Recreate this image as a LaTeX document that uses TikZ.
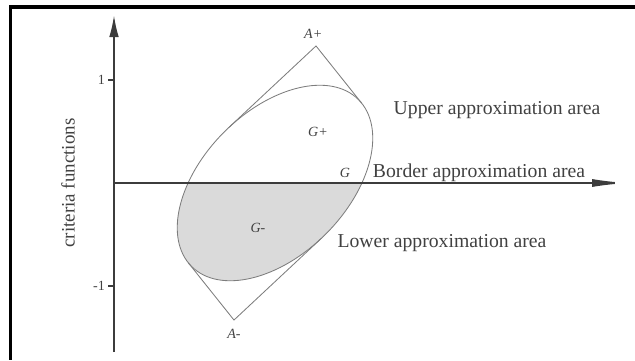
\documentclass[tikz,border=0pt]{standalone}
\usepackage{fontspec}
\setmainfont{Liberation Serif}
\usetikzlibrary{arrows.meta,positioning}
\definecolor{AxisGray}{RGB}{60,60,60}
\definecolor{CurveGray}{RGB}{125,125,125}
\definecolor{AreaGray}{RGB}{218,218,218}
\definecolor{TextGray}{RGB}{65,65,65}

\begin{document}
\begin{tikzpicture}[
    axis/.style={draw=AxisGray,line width=1.4pt},
    curve/.style={draw=CurveGray,line width=0.6pt},
    ellG/.style={shift={(4.025,0)},rotate=45,xscale=2.95,yscale=1.8},
    arealbl/.style={font=\fontsize{14}{16}\selectfont,text=TextGray,inner sep=1pt},
    setlbl/.style={font=\fontsize{10}{12}\selectfont\itshape,text=TextGray,inner sep=1pt},
    ticklbl/.style={font=\fontsize{10}{12}\selectfont,text=TextGray,inner sep=1pt}]

  \useasboundingbox (-2.85,-4.425) rectangle (13.025,4.575);

  % frame
  \coordinate (fTL) at (-2.5875,4.4);
  \coordinate (fTR) at (13.025,4.4);
  \coordinate (fBL) at (-2.5875,-4.425);
  \draw[line width=2.2pt] (fTR) -- (fTL) -- (fBL);

  % axes end points
  \coordinate (O) at (0,0);
  \coordinate (ytop) at (0,4.2);
  \coordinate (ybot) at (0,-4.225);
  \coordinate (xend) at (12.85,0);

  % G and its upper/lower vertices, in the ellipse's own frame
  \begin{scope}[ellG]
    \coordinate (G0) at (0,0);
    \coordinate (Aplus) at (1.067,0.943);
    \coordinate (Aminus) at (-1.067,-0.943);
    \coordinate (tpA1) at (86.9:1);
    \coordinate (tpA2) at (-3.9:1);
    \coordinate (tpB1) at (266.9:1);
    \coordinate (tpB2) at (176.1:1);
  \end{scope}

  % lower part of G shaded
  \begin{scope}
    \clip (-1,0) rectangle (13,-5);
    \fill[AreaGray,ellG] (0,0) circle (1);
  \end{scope}
  \draw[curve,ellG] (0,0) circle (1);

  \draw[curve] (tpA1) -- (Aplus) -- (tpA2);
  \draw[curve] (tpB1) -- (Aminus) -- (tpB2);

  \draw[axis,-{Latex[length=5.5mm,width=2.4mm]}] (ybot) -- (ytop);
  \draw[axis,-{Latex[length=9mm,width=2mm]}] (O) -- (xend);

  % ticks
  \coordinate (t1) at (0,2.575);
  \coordinate (t1l) at (-0.15,2.575);
  \coordinate (tm1) at (0,-2.575);
  \coordinate (tm1l) at (-0.15,-2.575);
  \draw[axis,line width=0.8pt] (t1) -- (t1l);
  \draw[axis,line width=0.8pt] (tm1) -- (tm1l);
  \node[ticklbl,left=1pt of t1l] (lab1) {1};
  \node[ticklbl,left=1pt of tm1l] (labm1) {-1};

  \node[font=\fontsize{13.5}{16}\selectfont,text=TextGray,rotate=90] (ylab) at (-1.15,0) {criteria functions};

  \node[setlbl,above=4pt of Aplus,xshift=-2pt] (lAplus) {A+};
  \node[setlbl,below=5pt of Aminus] (lAminus) {A-};
  \node[setlbl] (lGplus) at (5.1,1.275) {G+};
  \node[setlbl] (lG) at (5.775,0.25) {G};
  \node[setlbl] (lGminus) at (3.6,-1.125) {G-};

  \node[arealbl] (upper) at (9.575,1.825) {Upper approximation area};
  \node[arealbl] (border) at (9.125,0.25) {Border approximation area};
  \node[arealbl] (lower) at (8.2,-1.5) {Lower approximation area};
\end{tikzpicture}
\end{document}
